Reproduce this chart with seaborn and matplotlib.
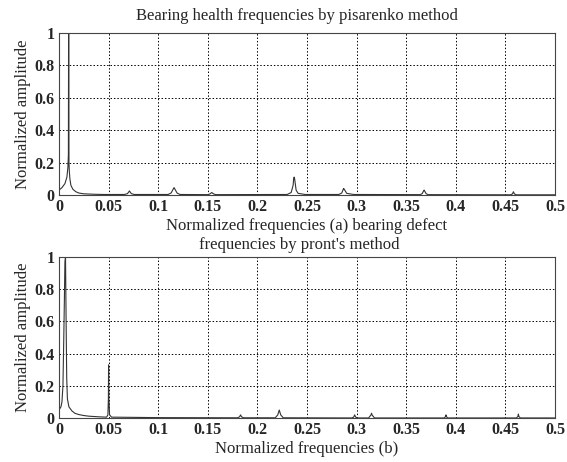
import numpy as np
import pandas as pd
import seaborn as sns
import matplotlib.pyplot as plt

# ---- data ----
# (a) pisarenko method
freq_a = [0, 0.003, 0.006, 0.008, 0.009, 0.0095, 0.0097, 0.0099, 0.0101, 0.0104, 0.011, 0.012, 0.014,
          0.017, 0.02, 0.025, 0.037, 0.045, 0.066, 0.069, 0.0705, 0.071, 0.0715, 0.073, 0.076,
          0.11, 0.113, 0.1155, 0.116, 0.1165, 0.119, 0.122, 0.15, 0.152, 0.154, 0.156, 0.158,
          0.23, 0.234, 0.236, 0.2365, 0.237, 0.2375, 0.239, 0.241, 0.248, 0.282, 0.285, 0.2865,
          0.287, 0.2875, 0.290, 0.297, 0.364, 0.366, 0.3675, 0.368, 0.3685, 0.370, 0.372,
          0.455, 0.457, 0.458, 0.459, 0.461, 0.5]
amp_a = [0.03, 0.045, 0.07, 0.11, 0.17, 0.25, 1.0, 1.0, 0.2, 0.15, 0.1, 0.06, 0.035,
         0.02, 0.012, 0.007, 0.004, 0.003, 0.003, 0.008, 0.02, 0.025, 0.02, 0.008, 0.003,
         0.003, 0.012, 0.04, 0.045, 0.04, 0.012, 0.003, 0.002, 0.006, 0.015, 0.006, 0.002,
         0.003, 0.015, 0.06, 0.1, 0.11, 0.1, 0.03, 0.01, 0.003, 0.003, 0.012, 0.035,
         0.04, 0.035, 0.01, 0.003, 0.002, 0.008, 0.025, 0.03, 0.025, 0.008, 0.002,
         0.001, 0.006, 0.02, 0.006, 0.001, 0.001]

# (b) pront's method
freq_b = [0, 0.002, 0.003, 0.004, 0.0048, 0.0055, 0.006, 0.0066, 0.0072, 0.0078, 0.0085, 0.01,
          0.013, 0.016, 0.02, 0.025, 0.03, 0.04, 0.048, 0.0493, 0.0498, 0.05, 0.0503, 0.051,
          0.053, 0.1, 0.18, 0.182, 0.183, 0.184, 0.186, 0.218, 0.2205, 0.222, 0.2235, 0.226,
          0.295, 0.297, 0.298, 0.299, 0.301, 0.312, 0.3145, 0.315, 0.3155, 0.318,
          0.388, 0.3895, 0.39, 0.3905, 0.392, 0.461, 0.4625, 0.463, 0.4635, 0.465, 0.5]
amp_b = [0.05, 0.07, 0.1, 0.2, 0.48, 0.75, 0.97, 1.0, 0.6, 0.25, 0.12, 0.07,
         0.045, 0.03, 0.022, 0.016, 0.012, 0.008, 0.006, 0.02, 0.12, 0.33, 0.12, 0.02,
         0.006, 0.003, 0.002, 0.008, 0.02, 0.008, 0.002, 0.002, 0.02, 0.05, 0.02, 0.002,
         0.001, 0.006, 0.02, 0.006, 0.001, 0.001, 0.02, 0.03, 0.02, 0.001,
         0.001, 0.008, 0.02, 0.008, 0.001, 0.001, 0.01, 0.025, 0.01, 0.001, 0.001]

x_ticks = [0, 0.05, 0.1, 0.15, 0.2, 0.25, 0.3, 0.35, 0.4, 0.45, 0.5]
x_labels = ["0", "0.05", "0.1", "0.15", "0.2", "0.25", "0.3", "0.35", "0.4", "0.45", "0.5"]
y_ticks = [0, 0.2, 0.4, 0.6, 0.8, 1]
y_labels = ["0", "0.2", "0.4", "0.6", "0.8", "1"]

sns.set_style("white")
plt.rcParams['font.family'] = ['Liberation Serif', 'DejaVu Serif']

fig = plt.figure(figsize=(5.67, 4.62), dpi=100)
ax1 = fig.add_axes([0.104, 0.578, 0.875, 0.351])
ax2 = fig.add_axes([0.104, 0.095, 0.875, 0.349])

df_a = pd.DataFrame({"f": freq_a, "a": amp_a})
df_b = pd.DataFrame({"f": freq_b, "a": amp_b})

sns.lineplot(data=df_a, x="f", y="a", ax=ax1, color="#333333", lw=0.8, sort=False)
sns.lineplot(data=df_b, x="f", y="a", ax=ax2, color="#333333", lw=0.8, sort=False)

for ax in (ax1, ax2):
    ax.set_xlim(0, 0.5)
    ax.set_ylim(0, 1)
    ax.set_xticks(x_ticks)
    ax.set_xticklabels(x_labels, fontsize=11.5, fontweight="bold")
    ax.set_yticks(y_ticks)
    ax.set_yticklabels(y_labels, fontsize=11.5, fontweight="bold")
    ax.tick_params(axis="both", length=0, pad=3)
    ax.grid(True, color="black", linestyle=(0, (1.5, 2)), linewidth=0.7)
    for s in ax.spines.values():
        s.set_color("#444444")
        s.set_linewidth(0.8)
    ax.set_ylabel("Normalized amplitude", fontsize=12, labelpad=3)

ax1.set_title("Bearing health frequencies by pisarenko method", fontsize=12, pad=9, x=0.48)
ax1.set_xlabel("Normalized frequencies (a) bearing defect", fontsize=12, labelpad=2)
ax2.set_title("frequencies by pront's method", fontsize=12, pad=6, x=0.485)
ax2.set_xlabel("Normalized frequencies (b)", fontsize=12, labelpad=2)

fig.savefig("out.png", dpi=100)
